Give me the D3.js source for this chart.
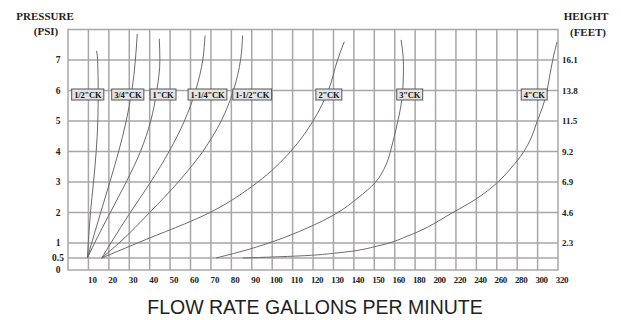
<!DOCTYPE html>
<html>
<head>
<meta charset="utf-8">
<script src="https://cdn.jsdelivr.net/npm/d3@7"></script>
<style>
  html, body { margin: 0; padding: 0; background: #fff; }
  svg { display: block; }
</style>
</head>
<body>
<svg id="chart" width="621" height="320"></svg>
<script>
// ---- data ----
const xTicks = [10,20,30,40,50,60,70,80,90,100,110,120,130,140,150,160,180,200,220,240,260,280,300,320];
const yTicks = [0,0.5,1,2,3,4,5,6,7];
const heightPsi = [1,2,3,4,5,6,7];
const heightLabels = ["2.3","4.6","6.9","9.2","11.5","13.8","16.1"];

const seriesNames = ['1/2"CK','3/4"CK','1"CK','1-1/4"CK','1-1/2"CK','2"CK','3"CK','4"CK'];
// flow (gpm) where each label box starts, at 6 psi
const labelAt = [1.8, 21.4, 40.2, 58.8, 80.7, 121.4, 162, 284];

const half = [[9.5,0.5],[11,2],[12.5,3],[13.8,4],[14.6,5],[14.8,6],[14.5,7],[14,7.3]];
const threeQuarter = [[9.5,0.5],[11.6,1],[16,2],[20.5,3],[24.8,4],[28.5,5],[31.3,6],[33,7],[33.9,7.85]];
const one = [[9.5,0.5],[13,1],[20.7,2],[28.5,3],[35.5,4],[40.5,5],[43.5,6],[45,7],[44.7,7.7]];
const oneQuarter = [[16.5,0.5],[21,1],[30.5,2],[40.5,3],[49.5,4],[57,5],[62.5,6],[66,7],[67.1,7.8]];
const oneHalf = [[16.5,0.5],[25,1],[40,2],[54,3],[66,4],[75,5],[81,6],[84.5,7],[85.5,7.8]];
const two = [[16.5,0.5],[34,1],[69.5,2],[93,3],[109,4],[120,5],[127.5,6],[132,7],[135.3,7.6]];
const three = [[72.5,0.5],[89.1,0.8],[101.4,1.07],[116.1,1.46],[131.7,1.98],[142,2.48],[150.3,2.97],[155.7,3.56],[158.7,4.21],[162.2,4.87],[166.2,5.52],[168.2,6.18],[168.6,6.84],[167.6,7.33],[166.2,7.66]];
const four = [[85.7,0.5],[113.6,0.57],[133.2,0.68],[152.8,0.92],[175,1.26],[217,2.0],[239.6,2.44],[260.2,2.97],[274.8,3.49],[285.6,3.95],[293.6,4.44],[299.4,4.97],[305.2,5.49],[309.2,5.98],[312,6.51],[315,7.03],[319,7.59]];
const seriesData = [half, threeQuarter, one, oneQuarter, oneHalf, two, three, four];

// ---- scales ----
const x = d3.scaleLinear().domain([0,160,320]).range([68, 68 + 16*20.42, 558]);
const y = d3.scaleLinear().domain([0,0.5,1,8]).range([270,258,243,29.5]);

const svg = d3.select('#chart');
svg.append('rect').attr('width',621).attr('height',320).attr('fill','#fff');

const gridColor = '#a9a6a6';
const serif = '"Liberation Serif", "Times New Roman", serif';

// grid
const grid = svg.append('g');
grid.selectAll('line.v').data(xTicks.filter(d => d < 320)).enter().append('line')
  .attr('x1', d => x(d)).attr('x2', d => x(d))
  .attr('y1', y(8)).attr('y2', y(0))
  .attr('stroke', gridColor).attr('stroke-width', 1.5);
grid.selectAll('line.h').data(yTicks.filter(d => d > 0)).enter().append('line')
  .attr('x1', x(0)).attr('x2', x(320))
  .attr('y1', d => y(d)).attr('y2', d => y(d))
  .attr('stroke', gridColor).attr('stroke-width', 1.5);
grid.append('rect')
  .attr('x', x(0)).attr('y', y(8))
  .attr('width', x(320) - x(0)).attr('height', y(0) - y(8))
  .attr('fill', 'none').attr('stroke', gridColor).attr('stroke-width', 1.5);

// curves
const line = d3.line().x(d => x(d[0])).y(d => y(d[1])).curve(d3.curveMonotoneY);
svg.append('g').selectAll('path').data(seriesData).enter().append('path')
  .attr('d', line).attr('fill','none').attr('stroke','#6e6a6a').attr('stroke-width',1);

// x tick labels
svg.append('g').selectAll('text').data(xTicks).enter().append('text')
  .attr('x', d => x(d) + 4).attr('y', 283)
  .attr('text-anchor','middle')
  .attr('font-family', serif).attr('font-weight','bold').attr('font-size', 9)
  .attr('letter-spacing', d => d >= 100 ? -0.4 : 0)
  .attr('fill','#222').text(d => d);

// left y tick labels
svg.append('g').selectAll('text').data(yTicks).enter().append('text')
  .attr('x', 58).attr('y', d => y(d)).attr('dy','0.35em')
  .attr('text-anchor','middle')
  .attr('font-family', serif).attr('font-weight','bold').attr('font-size', 9.5)
  .attr('fill','#222').text(d => d);

// right height labels
svg.append('g').selectAll('text').data(heightPsi).enter().append('text')
  .attr('x', x(320) + 4).attr('y', d => y(d)).attr('dy','0.35em')
  .attr('text-anchor','start')
  .attr('font-family', serif).attr('font-weight','bold').attr('font-size', 9)
  .attr('fill','#222').text((d,i) => heightLabels[i]);

// axis headings
const head = (t, cx, by) => svg.append('text').attr('x', cx).attr('y', by)
  .attr('text-anchor','middle').attr('font-family', serif).attr('font-weight','bold')
  .attr('font-size', 11).attr('fill','#222').text(t);
head('PRESSURE', 45, 20);
head('(PSI)', 46, 35);
head('HEIGHT', 586, 20);
head('(FEET)', 588, 36);

// x axis title
svg.append('text').attr('x', 315).attr('y', 314)
  .attr('text-anchor','middle')
  .attr('font-family','"Liberation Sans", Arial, sans-serif')
  .attr('font-size', 19.5).attr('fill','#222')
  .text('FLOW RATE GALLONS PER MINUTE');

// series label boxes
const lab = svg.append('g');
seriesNames.forEach((name, i) => {
  const g = lab.append('g');
  const r = g.append('rect');
  const t = g.append('text')
    .attr('x', x(labelAt[i]) + 2.5).attr('y', y(6) + 7.5)
    .attr('font-family', serif).attr('font-weight','bold').attr('font-size', 8.5)
    .attr('letter-spacing', -0.2)
    .attr('fill','#111').text(name);
  const w = t.node().getComputedTextLength();
  r.attr('x', x(labelAt[i])).attr('y', y(6) - 1.5)
   .attr('width', w + 5).attr('height', 11)
   .attr('fill','#e4e4e4').attr('stroke','#555').attr('stroke-width',1);
});
</script>
</body>
</html>
